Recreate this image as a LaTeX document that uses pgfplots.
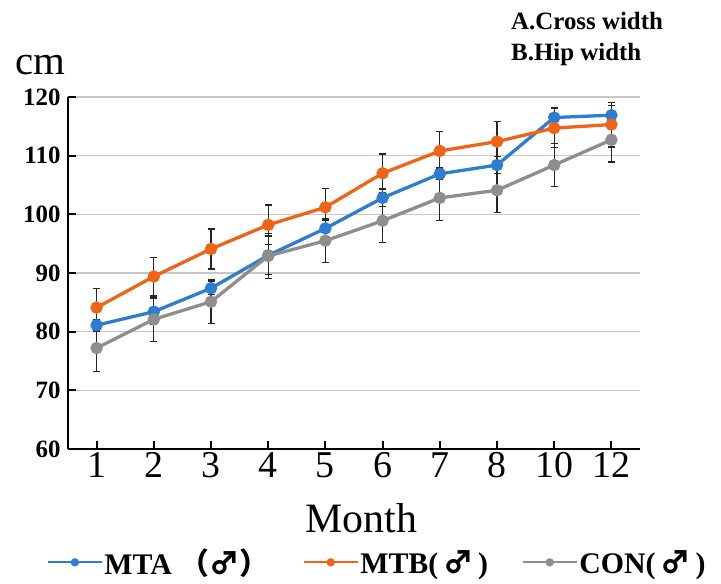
\documentclass[border=0pt]{standalone}
\usepackage{fontspec}
\setmainfont{Liberation Serif}
\newfontfamily\cjk{Noto Sans CJK SC}
\usepackage{pgfplots}
\pgfplotsset{compat=1.18}
\definecolor{cblue}{RGB}{46,125,210}
\definecolor{corange}{RGB}{240,100,25}
\definecolor{cgray}{RGB}{142,142,142}
\begin{document}
\begin{tikzpicture}[x=1bp,y=1bp]
\useasboundingbox (0,0) rectangle (721,584);
\begin{axis}[
  at={(68bp,135bp)}, anchor=south west,
  scale only axis, width=572bp, height=352bp,
  xmin=-0.5, xmax=9.5, ymin=60, ymax=120,
  xtick={0,...,9}, xticklabels={1,2,3,4,5,6,7,8,10,12},
  ytick={60,70,...,120},
  axis lines=left,
  axis line style={-, line width=2.4bp, black},
  ymajorgrids, grid style={black!22, line width=1.3bp},
  tick style={black, line width=2bp}, major tick length=8bp, tick align=inside,
  /pgf/number format/assume math mode=true,
  yticklabel style={font=\fontsize{25}{25}\selectfont\bfseries, xshift=-4bp},
  xticklabel style={font=\fontsize{38}{38}\selectfont},
  xlabel={Month},
  xlabel style={font=\fontsize{42}{42}\selectfont, at={(axis description cs:0.513,-0.236)}, anchor=base},
  legend columns=3,
  legend style={draw=none, fill=none, at={(axis description cs:0.54,-0.322)}, anchor=center,
    font=\fontsize{30}{30}\selectfont\bfseries, nodes={inner sep=1.5bp},
    /tikz/every even column/.append style={column sep=32bp}},
  legend image code/.code={\draw[#1, line width=2.2bp, mark size=3bp, mark repeat=2, mark phase=2] plot coordinates {(0bp,0bp) (27bp,0bp) (54bp,0bp)};},
  every axis plot/.append style={line width=3.3bp, mark=*, mark size=4.5bp},
  error bars/y dir=both, error bars/y explicit,
  error bars/error mark=|,
  error bars/error bar style={line width=1.3bp, black!85},
  error bars/error mark options={line width=1.3bp, mark size=3.5bp, black!85},
]
\addplot[cblue, mark options={fill=cblue}] coordinates {
 (0,81.1) +- (0,1.0) (1,83.4) +- (0,2.2) (2,87.4) +- (0,1.1) (3,93.0) +- (0,3.3) (4,97.6) +- (0,1.4)
 (5,102.8) +- (0,1.5) (6,106.9) +- (0,1.0) (7,108.4) +- (0,1.5) (8,116.5) +- (0,1.6) (9,116.9) +- (0,1.7)};
\addlegendentry{MTA {\cjk （♂）}}
\addplot[corange, mark options={fill=corange}] coordinates {
 (0,84.1) +- (0,3.3) (1,89.4) +- (0,3.3) (2,94.1) +- (0,3.4) (3,98.2) +- (0,3.4) (4,101.2) +- (0,3.2)
 (5,107.0) +- (0,3.3) (6,110.8) +- (0,3.3) (7,112.4) +- (0,3.4) (8,114.7) +- (0,3.3) (9,115.3) +- (0,3.8)};
\addlegendentry{MTB(\,{\cjk ♂}\,)}
\addplot[cgray, mark options={fill=cgray}] coordinates {
 (0,77.2) +- (0,4.0) (1,82.1) +- (0,3.8) (2,85.1) +- (0,3.7) (3,92.9) +- (0,3.8) (4,95.5) +- (0,3.7)
 (5,98.9) +- (0,3.7) (6,102.8) +- (0,3.8) (7,104.1) +- (0,3.8) (8,108.4) +- (0,3.7) (9,112.7) +- (0,3.8)};
\addlegendentry{CON(\,{\cjk ♂}\,)}
\end{axis}
\node[anchor=base, font=\fontsize{41}{41}\selectfont] at (40,509) {cm};
\node[anchor=base west, inner sep=0, font=\fontsize{25}{25}\selectfont\bfseries] at (511,554) {A.Cross width};
\node[anchor=base west, inner sep=0, font=\fontsize{25}{25}\selectfont\bfseries] at (511,523) {B.Hip width};
\end{tikzpicture}
\end{document}
